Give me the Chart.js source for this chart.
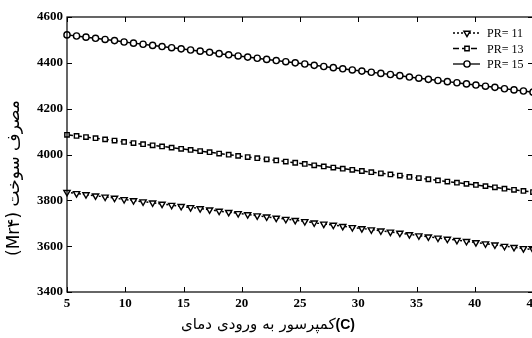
<!DOCTYPE html>
<html><head><meta charset="utf-8">
<script src="https://cdn.jsdelivr.net/npm/chart.js@4/dist/chart.umd.min.js"></script>
<style>html,body{margin:0;padding:0;background:#fff;overflow:hidden;width:532px;height:338px}#wrap{width:560px;height:338px}</style>
</head><body><div id="wrap"><canvas id="c" width="560" height="338"></canvas></div>
<script>
const temps = [5, 5.82, 6.63, 7.45, 8.27, 9.08, 9.9, 10.71, 11.53, 12.35, 13.16, 13.98, 14.8, 15.61, 16.43, 17.24, 18.06, 18.88, 19.69, 20.51, 21.33, 22.14, 22.96, 23.78, 24.59, 25.41, 26.22, 27.04, 27.86, 28.67, 29.49, 30.31, 31.12, 31.94, 32.76, 33.57, 34.39, 35.2, 36.02, 36.84, 37.65, 38.47, 39.29, 40.1, 40.92, 41.73, 42.55, 43.37, 44.18, 45];
const pr11 = [3835,3830,3825,3820,3815,3810,3804,3799,3794,3789,3784,3779,3774,3769,3764,3759,3753,3748,3743,3738,3733,3728,3723,3718,3713,3708,3702,3697,3692,3687,3682,3677,3672,3667,3662,3657,3651,3646,3641,3636,3631,3626,3621,3616,3611,3606,3600,3595,3590,3585];
const pr13 = [4086,4081,4076,4071,4066,4061,4055,4050,4045,4040,4035,4030,4025,4020,4015,4010,4004,3999,3994,3989,3984,3979,3974,3969,3964,3959,3953,3948,3943,3938,3933,3928,3923,3918,3913,3908,3902,3897,3892,3887,3882,3877,3872,3867,3862,3857,3851,3846,3841,3836];
const pr15 = [4522,4517,4512,4507,4502,4497,4491,4486,4481,4476,4471,4466,4461,4456,4451,4446,4440,4435,4430,4425,4420,4415,4410,4405,4400,4395,4389,4384,4379,4374,4369,4364,4359,4354,4349,4344,4338,4333,4328,4323,4318,4313,4308,4303,4298,4293,4287,4282,4277,4272];
const seriesLabels = ['PR= 11', 'PR= 13', 'PR= 15'];
const xTicks = [5, 10, 15, 20, 25, 30, 35, 40, 45];
const yTicks = [3400, 3600, 3800, 4000, 4200, 4400, 4600];
const xTitleWords = ['دمای', 'ورودی', 'به', 'کمپرسور', '(C)'];
const yTitle = 'مصرف سوخت (Mr۴)';

const styles = [
  {dash:[2,2], point:'triangle', rot:180, r:3.6},
  {dash:[6,3], point:'rect', rot:0, r:3.1},
  {dash:[], point:'circle', rot:0, r:3.1}
];
const values = [pr11, pr13, pr15];
const datasets = values.map((v,i)=>({
  label: seriesLabels[i],
  data: temps.map((t,j)=>({x:t, y:v[j]})),
  borderColor:'#000', backgroundColor:'#fff', borderWidth:1.5,
  borderDash: styles[i].dash,
  pointStyle: styles[i].point, pointRotation: styles[i].rot,
  pointRadius: styles[i].r,
  pointBorderWidth:1.4, pointBorderColor:'#000', pointBackgroundColor:'#fff',
  clip:false, tension:0
}));

const frame = {
  id:'frame',
  afterDraw(chart){
    const ctx = chart.ctx, a = chart.chartArea, xs = chart.scales.x, ys = chart.scales.y;
    ctx.save();
    ctx.strokeStyle = '#000'; ctx.lineWidth = 1.2; ctx.setLineDash([]);
    ctx.strokeRect(a.left, a.top, a.right-a.left, a.bottom-a.top);
    ctx.lineWidth = 1;
    xTicks.forEach(t=>{ const p = Math.round(xs.getPixelForValue(t))+0.5;
      ctx.beginPath(); ctx.moveTo(p,a.bottom); ctx.lineTo(p,a.bottom-5);
      ctx.moveTo(p,a.top); ctx.lineTo(p,a.top+5); ctx.stroke(); });
    yTicks.forEach(t=>{ const p = Math.round(ys.getPixelForValue(t))+0.5;
      ctx.beginPath(); ctx.moveTo(a.left,p); ctx.lineTo(a.left+5,p);
      ctx.moveTo(a.right,p); ctx.lineTo(a.right-5,p); ctx.stroke(); });
    // legend
    const lx = 453, ly = 33, gap = 15.5;
    chart.data.datasets.forEach((d,i)=>{
      const y = ly + i*gap;
      ctx.setLineDash(d.borderDash); ctx.lineWidth = 1.3; ctx.strokeStyle='#000';
      ctx.beginPath(); ctx.moveTo(lx,y); ctx.lineTo(lx+27,y); ctx.stroke();
      ctx.setLineDash([]);
      ctx.fillStyle='#fff'; ctx.lineWidth=1.4;
      Chart.helpers.drawPoint(ctx, {pointStyle:d.pointStyle, rotation:d.pointRotation, radius:d.pointRadius, borderWidth:1.4}, lx+14, y);
      ctx.fillStyle='#000'; ctx.font = '12px "Liberation Serif"'; ctx.textAlign='left'; ctx.textBaseline='middle';
      ctx.fillText(d.label, lx+34, y+1);
    });
    // x title: words laid out left to right as in the reference
    ctx.fillStyle = '#000';
    ctx.textBaseline='middle'; ctx.textAlign='left';
    const fonts = xTitleWords.map(w => w==='(C)' ? 'bold 14px "Liberation Sans"' : '15px "DejaVu Sans"');
    const sp = 5;
    let widths = xTitleWords.map((w,i)=>{ ctx.font = fonts[i]; return ctx.measureText(w).width; });
    let total = widths.reduce((s,w)=>s+w,0) + sp*(xTitleWords.length-2);
    let x = 268 - total/2;
    xTitleWords.forEach((w,i)=>{ ctx.font = fonts[i]; ctx.direction = (w==='(C)')?'ltr':'rtl';
      ctx.textAlign = (w==='(C)')?'left':'right';
      ctx.fillText(w, (w==='(C)')? x : x+widths[i], 325);
      x += widths[i] + (i < xTitleWords.length-2 ? sp : 0); });
    ctx.save();
    ctx.translate(15, 178); ctx.rotate(-Math.PI/2);
    ctx.direction = 'rtl'; ctx.textAlign='center';
    ctx.font = '17px "DejaVu Sans"';
    ctx.fillText(yTitle, 0, 0);
    ctx.restore();
    ctx.restore();
  }
};

new Chart(document.getElementById('c'), {
  type:'line',
  data:{datasets},
  options:{
    responsive:false, animation:false, devicePixelRatio:1,
    layout:{padding:{left:0, right:27, top:17, bottom:0}},
    plugins:{legend:{display:false}, tooltip:{enabled:false}},
    scales:{
      x:{type:'linear', min:5, max:45,
        afterBuildTicks(s){ s.ticks = xTicks.map(v=>({value:v})); },
        afterFit(s){ s.height = 46; s.paddingLeft = 0; s.paddingRight = 0; },
        grid:{display:false, drawTicks:false}, border:{display:false},
        ticks:{padding:4, color:'#000', maxRotation:0, autoSkip:false, callback:v=>String(v), font:{family:'"Liberation Serif"', size:13, weight:'bold'}}},
      y:{type:'linear', min:3400, max:4600,
        afterBuildTicks(s){ s.ticks = yTicks.map(v=>({value:v})); },
        afterFit(s){ s.width = 67; s.paddingTop = 0; s.paddingBottom = 0; },
        grid:{display:false, drawTicks:false}, border:{display:false},
        ticks:{padding:4, color:'#000', callback:v=>String(v), font:{family:'"Liberation Serif"', size:13, weight:'bold'}}}
    }
  },
  plugins:[frame]
});
</script></body></html>
